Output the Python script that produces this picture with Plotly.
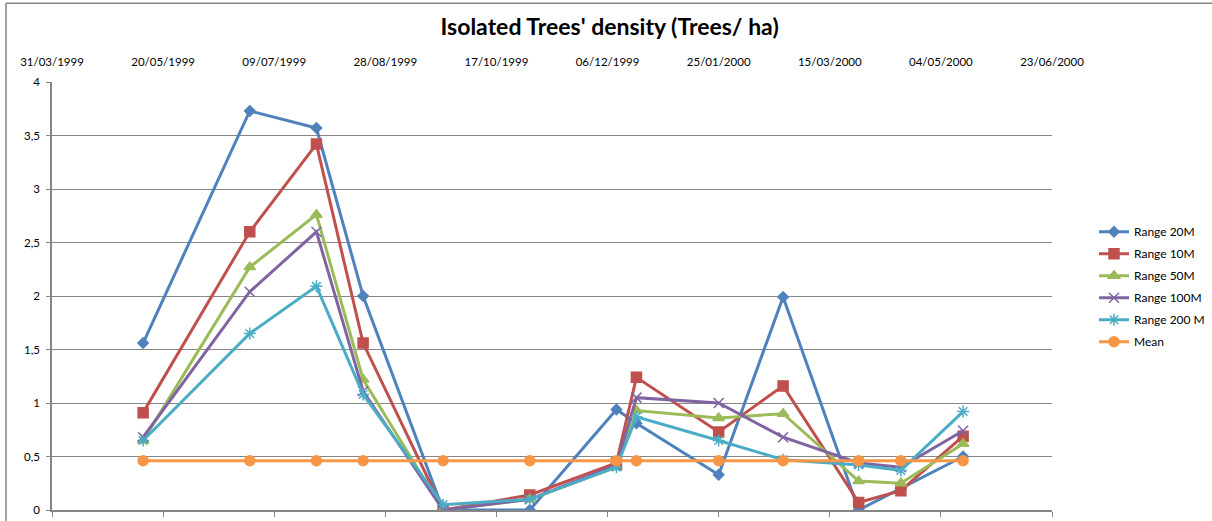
import plotly.graph_objects as go

dates = ["1999-05-11", "1999-06-28", "1999-07-28", "1999-08-18", "1999-09-23",
         "1999-11-01", "1999-12-10", "1999-12-19", "2000-01-25", "2000-02-23",
         "2000-03-28", "2000-04-16", "2000-05-14"]

range_20m = [1.56, 3.73, 3.57, 2.00, 0.00, 0.00, 0.94, 0.81, 0.33, 1.99, 0.00, 0.20, 0.50]
range_10m = [0.91, 2.60, 3.42, 1.56, 0.00, 0.14, 0.44, 1.24, 0.73, 1.16, 0.07, 0.18, 0.69]
range_50m = [0.65, 2.27, 2.76, 1.22, 0.00, 0.10, 0.40, 0.93, 0.86, 0.90, 0.27, 0.25, 0.62]
range_100m = [0.68, 2.04, 2.60, 1.11, 0.00, 0.10, 0.42, 1.05, 1.00, 0.68, 0.44, 0.40, 0.74]
range_200m = [0.65, 1.65, 2.09, 1.08, 0.05, 0.10, 0.40, 0.87, 0.65, 0.47, 0.42, 0.37, 0.92]
mean = [0.46] * 13

series_names = ["Range 20M", "Range 10M", "Range 50M", "Range 100M", "Range 200 M", "Mean"]
series_values = [range_20m, range_10m, range_50m, range_100m, range_200m, mean]
colors = ["#4F81BD", "#C0504D", "#9BBB59", "#8064A2", "#4BACC6", "#F79646"]
symbols = ["diamond", "square", "triangle-up", "x-thin-open", "asterisk-open", "circle"]
sizes = [8, 10, 10, 10, 10, 10]

y_ticks = [0, 0.5, 1, 1.5, 2, 2.5, 3, 3.5, 4]
y_ticktext = ["0", "0,5", "1", "1,5", "2", "2,5", "3", "3,5", "4"]

x_start = "1999-03-31"
x_end = "2000-06-23"
dtick_ms = 50 * 86400000

fig = go.Figure()
for name, vals, c, s, sz in zip(series_names, series_values, colors, symbols, sizes):
    fig.add_trace(go.Scatter(
        x=dates, y=vals, name=name, mode="lines+markers", legendgroup=name,
        line=dict(color=c, width=3),
        marker=dict(symbol=s, size=sz, color=c, line=dict(color=c, width=1.5)),
    ))

# invisible trace for the top date axis
fig.add_trace(go.Scatter(x=[x_start, x_end], y=[None, None], xaxis="x2",
                         showlegend=False, hoverinfo="skip"))

axis_font = dict(family="Lato, Open Sans, sans-serif", size=11.5, color="#000000")

fig.update_layout(
    width=1212, height=521,
    margin=dict(l=52, r=160, t=82, b=11, autoexpand=False),
    paper_bgcolor="white", plot_bgcolor="white",
    title=dict(text="<b>Isolated Trees' density (Trees/ ha)</b>", x=0.503, xanchor="center",
               y=0.948, yanchor="middle",
               font=dict(family="Lato, Open Sans, sans-serif", size=23, color="#000000")),
    xaxis=dict(type="date", range=[x_start, x_end], tick0=x_start, dtick=dtick_ms,
               showticklabels=False, ticks="outside", ticklen=5, tickcolor="#868686",
               showline=True, linecolor="#868686", linewidth=1.5, showgrid=False,
               zeroline=False, automargin=False),
    xaxis2=dict(type="date", range=[x_start, x_end], tick0=x_start, dtick=dtick_ms,
                overlaying="x", side="top", tickformat="%d/%m/%Y", ticks="",
                showline=False, showgrid=False, zeroline=False, tickfont=axis_font,
                ticklabelstandoff=13, automargin=False),
    yaxis=dict(range=[0, 4], tickvals=y_ticks, ticktext=y_ticktext, ticks="outside",
               ticklen=4, tickcolor="#868686", showline=True, linecolor="#868686",
               linewidth=1.5, showgrid=True, gridcolor="#868686", gridwidth=1,
               zeroline=False, tickfont=axis_font, automargin=False,
               ticklabelstandoff=4),
    legend=dict(x=1.042, y=0.684, xanchor="left", yanchor="top",
                font=dict(family="Lato, Open Sans, sans-serif", size=12, color="#000000"),
                bgcolor="rgba(0,0,0,0)", tracegroupgap=3, traceorder="grouped",
                itemwidth=30),
    showlegend=True,
    shapes=[
        dict(type="line", xref="paper", yref="paper", x0=-0.046, x1=1.2, y0=1.184, y1=1.184,
             line=dict(color="#868686", width=1.5)),
        dict(type="line", xref="paper", yref="paper", x0=-0.046, x1=-0.046, y0=-0.1, y1=1.184,
             line=dict(color="#868686", width=1.5)),
    ],
)

fig.write_html("out.html", config={"displayModeBar": False},
               post_script="document.body.style.margin='0';")
